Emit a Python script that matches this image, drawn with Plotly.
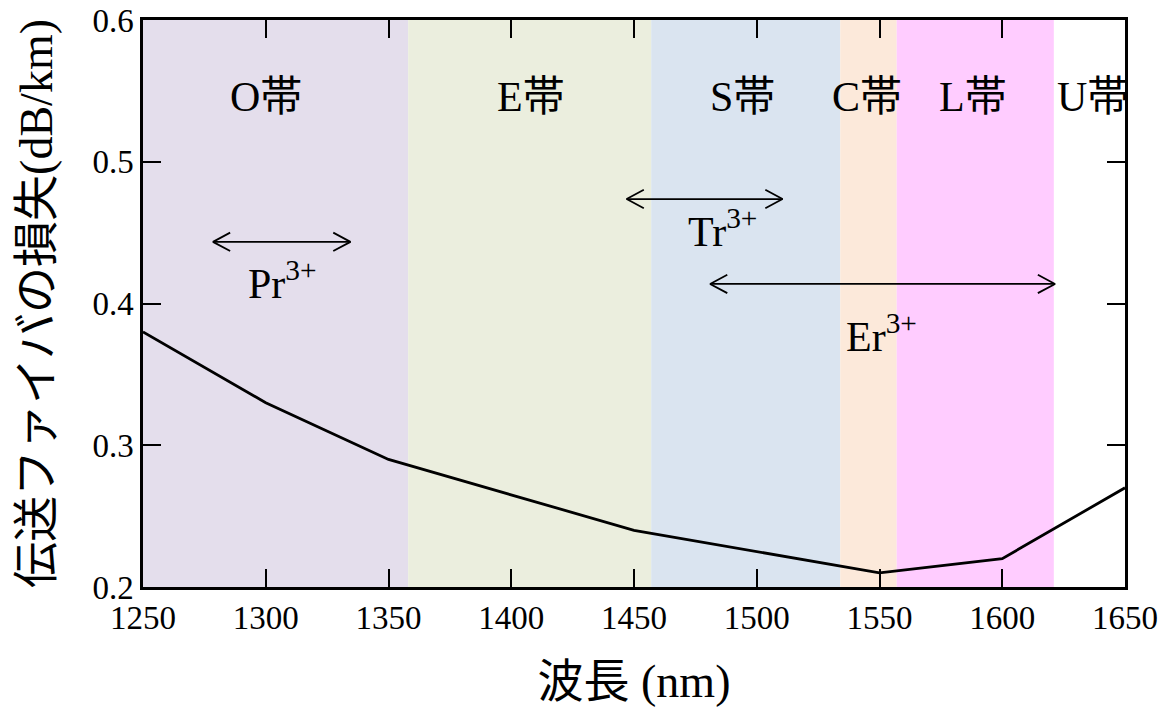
import plotly.graph_objects as go

# Data
wavelength = [1250, 1300, 1350, 1450, 1550, 1600, 1650]
loss = [0.38, 0.33, 0.29, 0.24, 0.21, 0.22, 0.27]

band_names = ["O帯", "E帯", "S帯", "C帯", "L帯", "U帯"]
band_starts = [1250, 1358, 1457, 1534, 1557, 1621]
band_ends = [1358, 1457, 1534, 1557, 1621, 1650]
band_colors = ["#E4DEEC", "#EBEEDE", "#DAE4F0", "#FCE9DA", "#FFCCFF", "rgba(255,255,255,0)"]
band_label_x = [1300, 1408, 1494, 1545, 1588, 1637]
band_label_y = 0.546

ion_names = ["Pr<sup>3+</sup>", "Tr<sup>3+</sup>", "Er<sup>3+</sup>"]
ion_x0 = [1278.5, 1447.0, 1481.0]
ion_x1 = [1334.5, 1510.5, 1621.5]
ion_arrow_y = [0.4435, 0.4737, 0.4138]
ion_label_x = [1307, 1486, 1551]
ion_label_y = [0.416, 0.453, 0.379]

x_ticks = [1250, 1300, 1350, 1400, 1450, 1500, 1550, 1600, 1650]
y_ticks = [0.2, 0.3, 0.4, 0.5, 0.6]

FONT = "Liberation Serif, Times New Roman, Noto Sans CJK JP"

fig = go.Figure()

shapes = []
for x0, x1, c in zip(band_starts, band_ends, band_colors):
    shapes.append(dict(type="rect", xref="x", yref="paper", x0=x0, x1=x1, y0=0, y1=1,
                       fillcolor=c, line=dict(width=0), layer="below"))

fig.add_trace(go.Scatter(x=wavelength, y=loss, mode="lines",
                         line=dict(color="black", width=2.8), showlegend=False,
                         hoverinfo="skip"))

# arrows with open chevron heads
hx = 7.0     # head length in nm
hy = 0.0065  # head half-height in data units
for x0, x1, y in zip(ion_x0, ion_x1, ion_arrow_y):
    xs = [x0, x1, None,
          x0 + hx, x0, x0 + hx, None,
          x1 - hx, x1, x1 - hx]
    ys = [y, y, None,
          y + hy, y, y - hy, None,
          y + hy, y, y - hy]
    fig.add_trace(go.Scatter(x=xs, y=ys, mode="lines", line=dict(color="black", width=1.8),
                             showlegend=False, hoverinfo="skip"))

annotations = []
for name, x in zip(band_names, band_label_x):
    annotations.append(dict(x=x, y=band_label_y, xref="x", yref="y", text=name,
                            showarrow=False, font=dict(family=FONT, size=42, color="black")))
for name, x, y in zip(ion_names, ion_label_x, ion_label_y):
    annotations.append(dict(x=x, y=y, xref="x", yref="y", text=name,
                            showarrow=False, font=dict(family=FONT, size=42, color="black")))

fig.update_layout(
    width=1170, height=711,
    margin=dict(l=143, r=45, t=20, b=124),
    plot_bgcolor="white", paper_bgcolor="white",
    shapes=shapes, annotations=annotations,
    font=dict(family=FONT, color="black"),
)
fig.update_xaxes(range=[1250, 1650], tickvals=x_ticks, ticks="inside", ticklen=18, tickwidth=2,
                 tickcolor="black", showline=True, linecolor="black", linewidth=2.5, mirror="allticks",
                 showgrid=False, zeroline=False, automargin=False,
                 tickfont=dict(family=FONT, size=33, color="black"),
                 title=dict(text="波長 (nm)", font=dict(family=FONT, size=46, color="black"), standoff=30))
fig.update_yaxes(range=[0.2, 0.6], tickvals=y_ticks, tickformat=".1f", ticks="inside", ticklen=18,
                 tickwidth=2, tickcolor="black", showline=True, linecolor="black", linewidth=2.5,
                 mirror="allticks", showgrid=False, zeroline=False, automargin=False,
                 tickfont=dict(family=FONT, size=33, color="black"),
                 title=dict(text="伝送ファイバの損失(dB/km)", font=dict(family=FONT, size=46, color="black"),
                            standoff=26))

fig.write_html("out.html")
